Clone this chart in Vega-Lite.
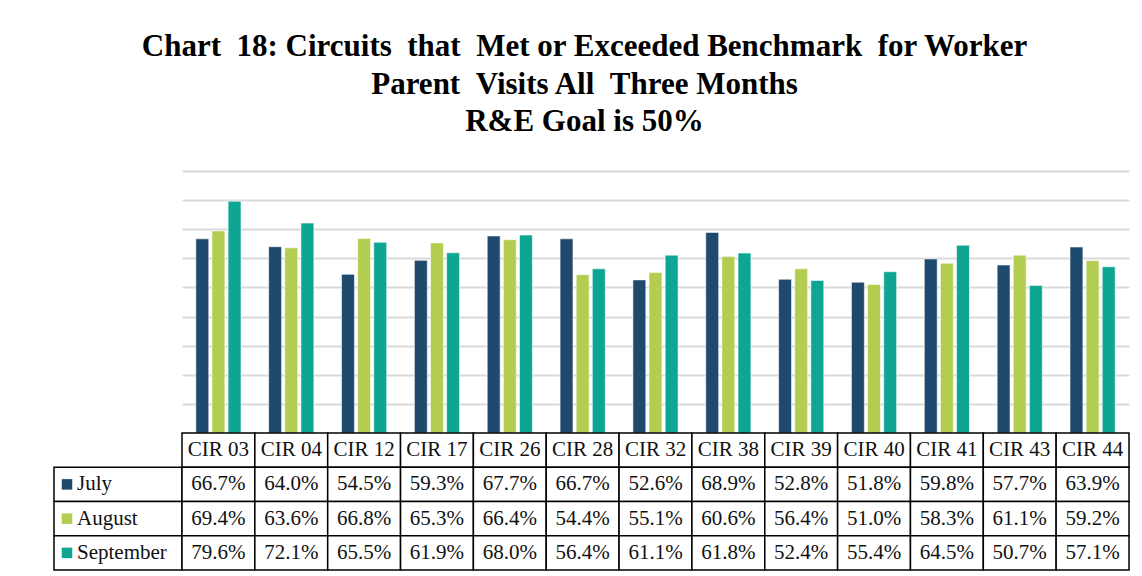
{
  "$schema": "https://vega.github.io/schema/vega-lite/v6.json",
  "padding": {"left": 53, "top": 31, "right": 10, "bottom": 0},
  "background": "white",
  "title": {
    "text": ["Chart \u00a018: Circuits \u00a0that \u00a0Met or Exceeded Benchmark \u00a0for Worker", "Parent \u00a0Visits All \u00a0Three Months", "R&E Goal is 50%"],
    "font": "Liberation Serif",
    "fontSize": 31,
    "fontWeight": "bold",
    "color": "#000000",
    "lineHeight": 37.5,
    "anchor": "middle",
    "offset": 33,
    "dx": -7
  },
  "datasets": {
    "d": [
      {"circuit": "CIR 03", "month": "July", "value": 0.667},
      {"circuit": "CIR 03", "month": "August", "value": 0.694},
      {"circuit": "CIR 03", "month": "September", "value": 0.796},
      {"circuit": "CIR 04", "month": "July", "value": 0.640},
      {"circuit": "CIR 04", "month": "August", "value": 0.636},
      {"circuit": "CIR 04", "month": "September", "value": 0.721},
      {"circuit": "CIR 12", "month": "July", "value": 0.545},
      {"circuit": "CIR 12", "month": "August", "value": 0.668},
      {"circuit": "CIR 12", "month": "September", "value": 0.655},
      {"circuit": "CIR 17", "month": "July", "value": 0.593},
      {"circuit": "CIR 17", "month": "August", "value": 0.653},
      {"circuit": "CIR 17", "month": "September", "value": 0.619},
      {"circuit": "CIR 26", "month": "July", "value": 0.677},
      {"circuit": "CIR 26", "month": "August", "value": 0.664},
      {"circuit": "CIR 26", "month": "September", "value": 0.680},
      {"circuit": "CIR 28", "month": "July", "value": 0.667},
      {"circuit": "CIR 28", "month": "August", "value": 0.544},
      {"circuit": "CIR 28", "month": "September", "value": 0.564},
      {"circuit": "CIR 32", "month": "July", "value": 0.526},
      {"circuit": "CIR 32", "month": "August", "value": 0.551},
      {"circuit": "CIR 32", "month": "September", "value": 0.611},
      {"circuit": "CIR 38", "month": "July", "value": 0.689},
      {"circuit": "CIR 38", "month": "August", "value": 0.606},
      {"circuit": "CIR 38", "month": "September", "value": 0.618},
      {"circuit": "CIR 39", "month": "July", "value": 0.528},
      {"circuit": "CIR 39", "month": "August", "value": 0.564},
      {"circuit": "CIR 39", "month": "September", "value": 0.524},
      {"circuit": "CIR 40", "month": "July", "value": 0.518},
      {"circuit": "CIR 40", "month": "August", "value": 0.510},
      {"circuit": "CIR 40", "month": "September", "value": 0.554},
      {"circuit": "CIR 41", "month": "July", "value": 0.598},
      {"circuit": "CIR 41", "month": "August", "value": 0.583},
      {"circuit": "CIR 41", "month": "September", "value": 0.645},
      {"circuit": "CIR 43", "month": "July", "value": 0.577},
      {"circuit": "CIR 43", "month": "August", "value": 0.611},
      {"circuit": "CIR 43", "month": "September", "value": 0.507},
      {"circuit": "CIR 44", "month": "July", "value": 0.639},
      {"circuit": "CIR 44", "month": "August", "value": 0.592},
      {"circuit": "CIR 44", "month": "September", "value": 0.571}
    ]
  },
  "columns": 2,
  "spacing": {"row": 0, "column": 0},
  "bounds": "flush",
  "concat": [
    {
      "width": 128,
      "height": 262,
      "data": {"values": [{"a": 1}]},
      "mark": {"type": "text", "text": ""},
      "encoding": {}
    },
    {
      "width": 947,
      "height": 262,
      "data": {"name": "d"},
      "mark": {"type": "bar", "stroke": "#ffffff", "strokeWidth": 0.8, "strokeOpacity": 0.7},
      "encoding": {
        "x": {"field": "circuit", "type": "nominal", "sort": null, "axis": null,
              "scale": {"paddingInner": 0.38, "paddingOuter": 0.19}},
        "xOffset": {"field": "month", "type": "nominal", "sort": ["July", "August", "September"],
                    "scale": {"paddingInner": 0.2, "paddingOuter": 0}},
        "y": {"field": "value", "type": "quantitative",
              "scale": {"domain": [0, 0.9], "nice": false},
              "axis": {"labels": false, "ticks": false, "domain": false, "title": null,
                       "grid": true, "gridColor": "#dadada", "gridWidth": 2,
                       "values": [0.1, 0.2, 0.3, 0.4, 0.5, 0.6, 0.7, 0.8, 0.9]}},
        "color": {"field": "month", "type": "nominal",
                  "scale": {"domain": ["July", "August", "September"], "range": ["#1f4a6e", "#b2cd4f", "#0ea592"]},
                  "legend": null}
      }
    },
    {
      "width": 128,
      "height": 137,
      "data": {"name": "d"},
      "transform": [{"filter": "datum.circuit === 'CIR 03'"}],
      "encoding": {
        "y": {"field": "month", "type": "nominal",
              "scale": {"domain": [" ", "July", "August", "September"], "paddingInner": 0, "paddingOuter": 0},
              "axis": null}
      },
      "layer": [
        {"mark": {"type": "rect", "fill": "#ffffff", "stroke": "#000000", "strokeWidth": 1.5}},
        {"mark": {"type": "point", "shape": "square", "filled": true, "size": 110, "opacity": 1, "xOffset": -51},
         "encoding": {"color": {"field": "month", "type": "nominal",
                  "scale": {"domain": ["July", "August", "September"], "range": ["#1f4a6e", "#b2cd4f", "#0ea592"]},
                  "legend": null}}},
        {"mark": {"type": "text", "align": "left", "dx": -41, "fontSize": 21, "font": "Liberation Serif", "color": "#111111"},
         "encoding": {"text": {"field": "month", "type": "nominal"}}}
      ]
    },
    {
      "width": 947,
      "height": 137,
      "data": {"name": "d"},
      "encoding": {
        "x": {"field": "circuit", "type": "nominal", "sort": null, "axis": null,
              "scale": {"paddingInner": 0, "paddingOuter": 0}}
      },
      "layer": [
        {"transform": [{"filter": "datum.month === 'July'"}],
         "mark": {"type": "rect", "fill": "#ffffff", "stroke": "#000000", "strokeWidth": 1.5},
         "encoding": {"y": {"datum": " ", "type": "nominal",
                            "scale": {"domain": [" ", "July", "August", "September"], "paddingInner": 0, "paddingOuter": 0},
                            "axis": null}}},
        {"transform": [{"filter": "datum.month === 'July'"}],
         "mark": {"type": "text", "fontSize": 21, "font": "Liberation Serif", "color": "#111111"},
         "encoding": {"y": {"datum": " ", "type": "nominal"},
                      "text": {"field": "circuit", "type": "nominal"}}},
        {"mark": {"type": "rect", "fill": "#ffffff", "stroke": "#000000", "strokeWidth": 1.5},
         "encoding": {"y": {"field": "month", "type": "nominal"}}},
        {"mark": {"type": "text", "fontSize": 21, "font": "Liberation Serif", "color": "#111111"},
         "encoding": {"y": {"field": "month", "type": "nominal"},
                      "text": {"field": "value", "type": "quantitative", "format": ".1%"}}}
      ]
    }
  ],
  "config": {"view": {"stroke": null}, "font": "Liberation Serif"}
}
